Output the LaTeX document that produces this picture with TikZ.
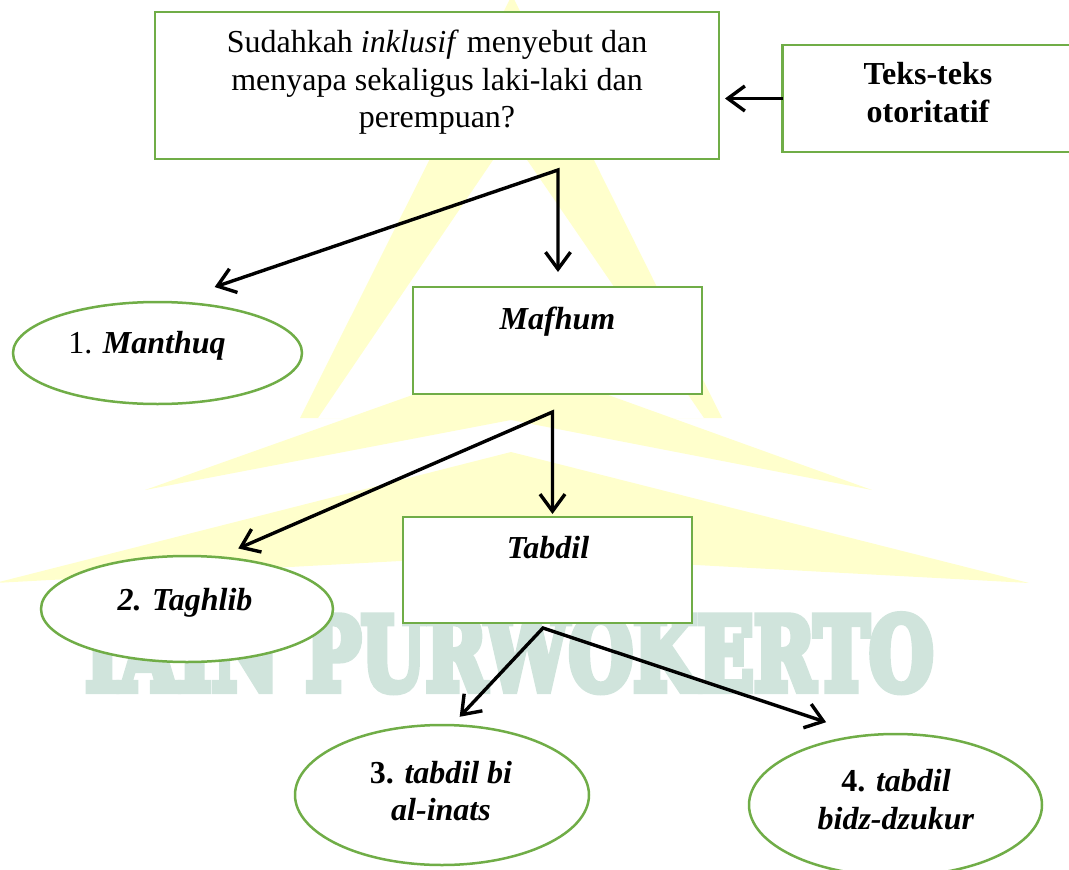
\documentclass[tikz,border=0pt]{standalone}
\usepackage{fontspec}
\setmainfont{Liberation Serif}
\newfontfamily\wmfont{DejaVu Serif Bold}[FakeBold=8]
\usetikzlibrary{shapes.geometric,arrows.meta}
\definecolor{grn}{RGB}{112,173,71}
\definecolor{wmyel}{RGB}{255,255,204}
\definecolor{wmteal}{RGB}{208,228,220}
\tikzset{
  box/.style={rectangle, draw=grn, line width=2.5pt, fill=white, inner sep=0pt, outer sep=0pt},
  oval/.style={ellipse, draw=grn, line width=2.5pt, fill=white, inner sep=0pt, outer sep=0pt},
  txt/.style={inner sep=0pt, outer sep=0pt, align=center, font=\fontsize{32}{37.5}\selectfont},
  arr/.style={line width=3.4pt, line join=miter},
}
\begin{document}
\begin{tikzpicture}[x=1pt, y=-1pt, >={Straight Barb[length=17pt,width=25pt]}]
\useasboundingbox (0,0) rectangle (1069,870);
\clip (0,0) rectangle (1069,870);
% watermark
\fill[wmyel, even odd rule] (512,-5) -- (300,418) -- (722,418) -- cycle
  (510,135) -- (318,418) -- (704,418) -- cycle;
\fill[wmyel] (145,490) -- (511,360) -- (872,490) -- (511,420) -- cycle;
\fill[wmyel] (-5,583) -- (511,452) -- (1029,583) -- (511,555) -- cycle;
\node[anchor=base west, inner sep=0pt, text=wmteal] (wm) at (85,690)
  {\resizebox{848pt}{75pt}{\wmfont IAIN PURWOKERTO}};
% boxes
\node[box, minimum width=564pt, minimum height=147pt] (top) at (437,85.5) {};
\node[txt, anchor=base] (toptxt) at (437,127.5)
  {Sudahkah \textit{inklusif} menyebut dan\\menyapa sekaligus laki-laki dan\\perempuan?};
\node[box, minimum width=292pt, minimum height=107pt] (teks) at (928.5,98.5) {};
\node[txt, anchor=base, font=\fontsize{32}{37.5}\selectfont\bfseries] (tekstxt) at (928,122)
  {Teks-teks\\otoritatif};
\node[box, minimum width=289pt, minimum height=107pt] (mafhum) at (557.5,340.5) {};
\node[txt, anchor=base] (mafhumtxt) at (557.5,329) {\textbf{\textit{Mafhum}}};
\node[oval, minimum width=289pt, minimum height=102pt] (manthuq) at (157.5,353) {};
\node[txt, anchor=base] (manthuqtxt) at (147,353) {1. \textbf{\textit{Manthuq}}};
\node[box, minimum width=289pt, minimum height=106pt] (tabdil) at (547.5,570) {};
\node[txt, anchor=base] (tabdiltxt) at (548,558) {\textbf{\textit{Tabdil}}};
\node[oval, minimum width=292pt, minimum height=106pt] (taghlib) at (187,609) {};
\node[txt, anchor=base] (taghlibtxt) at (185,610) {\textbf{\textit{2. Taghlib}}};
\node[oval, minimum width=294pt, minimum height=140pt] (inats) at (442,795) {};
\node[txt, anchor=base] (inatstxt) at (441,820.5)
  {\textbf{3.} \textbf{\textit{tabdil bi}}\\\textbf{\textit{al-inats}}};
\node[oval, minimum width=293pt, minimum height=142pt] (dzukur) at (895.5,805) {};
\node[txt, anchor=base] (dzukurtxt) at (896,829)
  {\textbf{4.} \textbf{\textit{tabdil}}\\\textbf{\textit{bidz-dzukur}}};
% junctions
\coordinate (j1) at (558,170);
\coordinate (j2) at (552.5,412);
\coordinate (j3) at (543,628);
% connectors
\draw[arr, ->, shorten >=6pt] (teks.west) -- (top.east |- teks.west);
\draw[arr, <->, shorten <=47pt, shorten >=15pt] (manthuq.76) -- (j1) -- (j1 |- mafhum.north);
\draw[arr, <->, shorten <=22pt, shorten >=3pt] (taghlib.59) -- (j2) -- (j2 |- tabdil.north);
\draw[arr, <->, shorten <=11.5pt, shorten >=42pt] (inats.82) -- (j3) -- (dzukur.113);
\end{tikzpicture}
\end{document}
